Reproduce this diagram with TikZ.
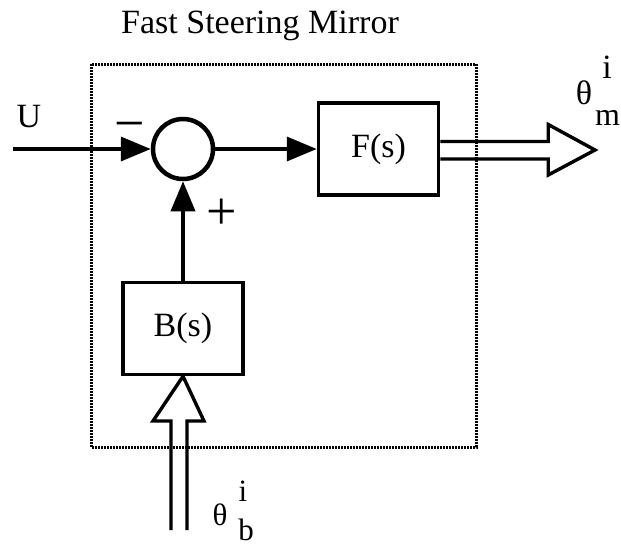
\documentclass[tikz,border=0pt]{standalone}
\usepackage{fontspec}
\setmainfont{Liberation Serif}
\usetikzlibrary{arrows.meta,calc}
\begin{document}
\begin{tikzpicture}[x=1pt,y=-1pt,
  blockbox/.style={draw,line width=3.5pt,minimum width=120pt,minimum height=92pt,inner sep=0pt,font=\fontsize{34}{40}\selectfont},
  sumnode/.style={draw,circle,line width=4.5pt,minimum size=60pt,inner sep=0pt},
  sig/.style={line width=3.6pt,-{Triangle[length=30pt,width=24pt]}},
  dbl/.style={line width=3.4pt,line join=miter},
  lbl/.style={inner sep=0pt,font=\fontsize{34}{40}\selectfont},
  sign/.style={inner sep=0pt,font=\fontsize{54}{60}\selectfont},
  frame/.style={line width=3pt,dash pattern=on 2pt off 1pt}]
\useasboundingbox (0,0) rectangle (621,550);
% frame
\draw[frame] (91,64) rectangle (476,447);
\node[lbl,anchor=base] (title) at (260,33) {Fast Steering Mirror};
% blocks
\node[sumnode] (sum) at (183,149) {};
\node[blockbox] (F) at (378.5,149) {F(s)};
\node[blockbox] (B) at (183,328.5) {B(s)};
% input U
\coordinate (uin) at (13,149);
\draw[sig] (uin) -- (sum.west);
\node[lbl,anchor=base] (U) at (29,127) {U};
\node[sign,anchor=base] (minus) at (130,141) {−};
\node[sign] (plus) at (222,214) {+};
\draw[sig] (sum.east) -- (F.west);
\draw[sig] (B.north) -- (sum.south);
% output double arrow
\coordinate (otip) at (595,150);
\draw[dbl] ($(F.east)+(0,-7.5)$) -- ++(108,0) -- ++(0,-17) -- (otip)
  -- ($(F.east)+(108,26)$) -- ++(0,-16) -- ($(F.east)+(0,10)$);
% input double arrow to B
\coordinate (bbot) at (179,530);
\draw[dbl] ($(bbot)+(-8,0)$) -- ++(0,-109) -- ++(-18,0) -- (B.south)
  -- ($(bbot)+(25,-109)$) -- ++(-17,0) -- ($(bbot)+(8,0)$);
% labels theta
\node[lbl] (thm) at (584,93) {θ};
\node[lbl,anchor=base] (im) at (607,78) {i};
\node[lbl,anchor=base west,font=\fontsize{32}{36}\selectfont] (mm) at (595,125) {m};
\node[lbl,font=\fontsize{31}{36}\selectfont] (thb) at (220,515) {θ};
\node[lbl,font=\fontsize{31}{36}\selectfont,anchor=base] (ib) at (243,501) {i};
\node[lbl,font=\fontsize{31}{36}\selectfont,anchor=base] (bb) at (246,540) {b};
\end{tikzpicture}
\end{document}
